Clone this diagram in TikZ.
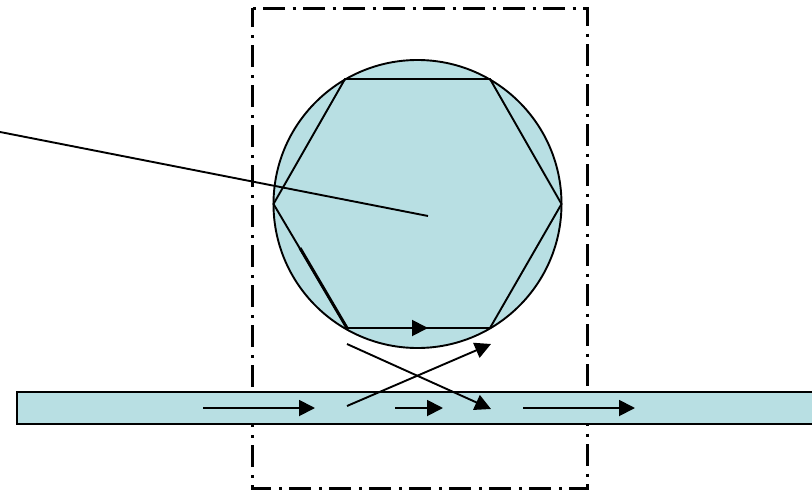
\documentclass[tikz,border=0pt]{standalone}
\usetikzlibrary{arrows.meta, positioning}

\definecolor{guidefill}{RGB}{184,223,227}

\begin{document}
\begin{tikzpicture}[
  x=1pt, y=-1pt,
  line width=1.9pt,
  >={Triangle[length=16pt, width=16pt]},
  cavity/.style ={draw=black, line width=3pt, dash pattern=on 22pt off 7.5pt on 3pt off 7.5pt, dash phase=29pt},
  guide/.style  ={draw=black, fill=guidefill},
  arr/.style    ={->, draw=black}
]
\useasboundingbox (0,0) rectangle (812,490);

% ---- dash-dot frame ----
\draw[cavity] (252,8) -- (587,8) -- (587,488) -- (252,488) -- cycle;

% ---- ring and hexagon ----
\node[guide, circle, minimum size=288pt, inner sep=0pt, outer sep=0pt] (ring) at (417.5,204) {};
\coordinate (hexa) at (273.5,204);
\coordinate (hexb) at (345,79);
\coordinate (hexc) at (490,79);
\coordinate (hexd) at (561.5,204);
\coordinate (hexe) at (490,328);
\coordinate (hexf) at (347,328);
\draw (hexa) -- (hexb) -- (hexc) -- (hexd) -- (hexe) -- (hexf) -- cycle;

% ---- straight guide, runs off the right edge ----
\draw[guide] (830,392) -- (17,392) -- (17,424) -- (830,424);

% ---- free ends ----
\coordinate (ptrstart) at (-5,131);
\coordinate (ptrend)   at (428,216);
\coordinate (thickstart) at (300,248);
\coordinate (loopend)  at (428,328);
\coordinate (dropstart) at (347,344);
\coordinate (dropend)  at (491,409);
\coordinate (addstart) at (347,406);
\coordinate (addend)   at (491,344);
\coordinate (ina)  at (203,408);
\coordinate (inb)  at (315,408);
\coordinate (mida) at (395,408);
\coordinate (midb) at (443,408);
\coordinate (outa) at (523,408);
\coordinate (outb) at (635,408);

% ---- edges ----
\draw (ptrstart) -- (ptrend);
\draw[line width=3pt] (thickstart) -- (hexf);
\draw[arr] (hexf) -- (loopend);
\draw[arr] (dropstart) -- (dropend);
\draw[arr] (addstart) -- (addend);
\draw[arr] (ina) -- (inb);
\draw[arr] (mida) -- (midb);
\draw[arr] (outa) -- (outb);

\end{tikzpicture}
\end{document}
